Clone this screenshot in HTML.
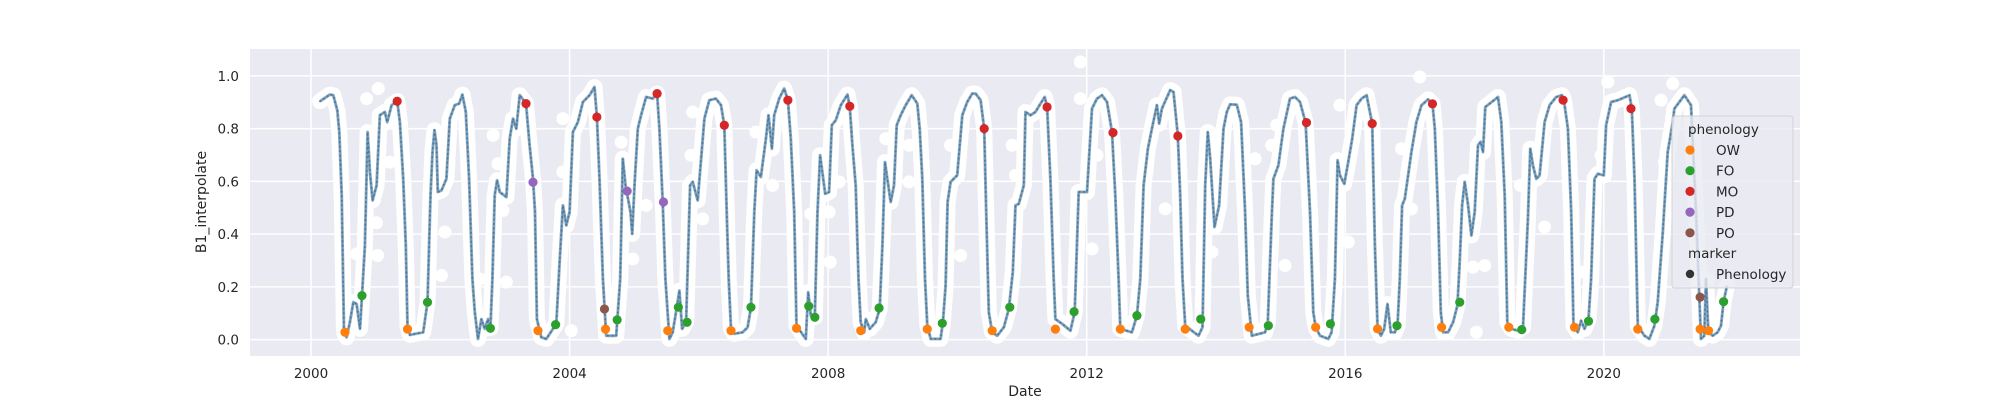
<!DOCTYPE html>
<html><head><meta charset="utf-8"><style>
html,body{margin:0;padding:0;background:#fff;}
svg{display:block;font-family:"DejaVu Sans","Liberation Sans",sans-serif;}
</style></head><body>
<svg id="chart" width="2000" height="400" viewBox="0 0 2000 400" xmlns="http://www.w3.org/2000/svg">
<rect x="250" y="49" width="1550" height="307" fill="#eaeaf2"/>
<g id="grid"></g>
<g id="ticks"></g>
<g id="series"></g>
<text x="1025" y="396" text-anchor="middle" font-size="14" fill="#262626">Date</text>
<text transform="translate(206,202) rotate(-90)" text-anchor="middle" font-size="14" fill="#262626">B1_interpolate</text>
<g id="legend"></g>
</svg>
<script>
const curveYears=[2000.14,2000.29,2000.345,2000.407,2000.438,2000.474,2000.51,2000.551,2000.602,2000.654,2000.705,2000.757,2000.788,2000.834,2000.875,2000.911,2000.952,2001.014,2001.066,2001.143,2001.179,2001.246,2001.333,2001.375,2001.426,2001.467,2001.493,2001.529,2001.735,2001.802,2001.848,2001.879,2001.91,2001.941,2001.961,2002.018,2002.095,2002.147,2002.224,2002.291,2002.342,2002.394,2002.445,2002.497,2002.533,2002.584,2002.636,2002.687,2002.739,2002.775,2002.806,2002.842,2002.878,2002.919,2003.022,2003.073,2003.125,2003.176,2003.228,2003.326,2003.382,2003.434,2003.465,2003.495,2003.562,2003.64,2003.794,2003.846,2003.897,2003.949,2004.0,2004.051,2004.129,2004.206,2004.309,2004.386,2004.422,2004.463,2004.515,2004.566,2004.721,2004.783,2004.824,2004.865,2004.942,2004.968,2005.004,2005.055,2005.107,2005.184,2005.287,2005.354,2005.39,2005.441,2005.483,2005.545,2005.596,2005.647,2005.699,2005.74,2005.802,2005.864,2005.905,2005.982,2006.085,2006.162,2006.265,2006.342,2006.394,2006.43,2006.461,2006.497,2006.548,2006.677,2006.754,2006.806,2006.857,2006.893,2006.96,2007.037,2007.078,2007.13,2007.166,2007.243,2007.32,2007.377,2007.423,2007.475,2007.511,2007.655,2007.691,2007.732,2007.794,2007.835,2007.876,2007.954,2008.015,2008.056,2008.118,2008.196,2008.299,2008.335,2008.376,2008.427,2008.469,2008.504,2008.556,2008.582,2008.644,2008.736,2008.798,2008.839,2008.88,2008.916,2008.968,2009.019,2009.06,2009.122,2009.2,2009.292,2009.38,2009.416,2009.457,2009.498,2009.534,2009.586,2009.74,2009.776,2009.817,2009.848,2009.894,2009.997,2010.075,2010.152,2010.229,2010.281,2010.358,2010.414,2010.445,2010.486,2010.538,2010.615,2010.718,2010.795,2010.857,2010.898,2010.95,2011.027,2011.053,2011.13,2011.207,2011.285,2011.351,2011.387,2011.439,2011.49,2011.516,2011.619,2011.748,2011.815,2011.877,2012.005,2012.082,2012.16,2012.237,2012.314,2012.391,2012.443,2012.494,2012.52,2012.7,2012.777,2012.829,2012.88,2012.947,2013.009,2013.086,2013.122,2013.163,2013.292,2013.343,2013.41,2013.446,2013.482,2013.524,2013.73,2013.791,2013.833,2013.874,2013.91,2013.977,2014.049,2014.116,2014.167,2014.219,2014.322,2014.389,2014.451,2014.492,2014.554,2014.76,2014.801,2014.863,2014.888,2014.965,2015.043,2015.145,2015.223,2015.3,2015.387,2015.454,2015.506,2015.542,2015.609,2015.737,2015.789,2015.84,2015.881,2015.917,2015.985,2016.046,2016.108,2016.175,2016.253,2016.33,2016.417,2016.458,2016.5,2016.551,2016.602,2016.654,2016.705,2016.767,2016.808,2016.844,2016.88,2016.921,2017.024,2017.101,2017.179,2017.282,2017.349,2017.385,2017.436,2017.478,2017.514,2017.591,2017.668,2017.735,2017.771,2017.807,2017.848,2017.9,2017.951,2018.002,2018.054,2018.095,2018.131,2018.167,2018.234,2018.363,2018.414,2018.466,2018.507,2018.569,2018.672,2018.749,2018.826,2018.862,2018.903,2018.955,2019.006,2019.084,2019.161,2019.264,2019.351,2019.382,2019.444,2019.495,2019.531,2019.598,2019.649,2019.701,2019.763,2019.804,2019.856,2019.907,2020.0,2020.036,2020.113,2020.216,2020.397,2020.433,2020.474,2020.525,2020.628,2020.705,2020.783,2020.834,2020.912,2020.989,2021.066,2021.092,2021.246,2021.349,2021.426,2021.478,2021.504,2021.555,2021.581,2021.617,2021.684,2021.761,2021.813,2021.853,2021.905];
const curveValues=[0.904,0.929,0.927,0.87,0.787,0.547,0.028,0.009,0.066,0.142,0.135,0.041,0.167,0.357,0.787,0.636,0.528,0.585,0.851,0.863,0.825,0.889,0.904,0.825,0.61,0.357,0.053,0.018,0.028,0.142,0.547,0.711,0.794,0.737,0.56,0.566,0.61,0.838,0.889,0.895,0.929,0.863,0.61,0.23,0.104,0.003,0.078,0.041,0.078,0.043,0.23,0.547,0.604,0.56,0.541,0.762,0.838,0.8,0.927,0.895,0.737,0.61,0.484,0.078,0.009,0.003,0.06,0.294,0.509,0.433,0.484,0.787,0.825,0.901,0.927,0.958,0.844,0.61,0.23,0.015,0.015,0.23,0.686,0.585,0.484,0.401,0.585,0.8,0.851,0.92,0.914,0.933,0.8,0.522,0.23,0.003,0.028,0.104,0.186,0.041,0.066,0.585,0.598,0.528,0.838,0.908,0.914,0.889,0.813,0.484,0.23,0.041,0.022,0.028,0.047,0.123,0.484,0.642,0.617,0.762,0.851,0.724,0.851,0.914,0.952,0.908,0.762,0.484,0.053,0.003,0.18,0.091,0.085,0.484,0.699,0.553,0.56,0.813,0.832,0.889,0.929,0.882,0.737,0.585,0.23,0.066,0.028,0.078,0.041,0.066,0.116,0.357,0.673,0.61,0.522,0.585,0.813,0.851,0.889,0.927,0.895,0.8,0.61,0.23,0.053,0.003,0.003,0.066,0.205,0.522,0.598,0.623,0.851,0.901,0.933,0.933,0.908,0.8,0.484,0.104,0.028,0.015,0.047,0.116,0.256,0.509,0.515,0.585,0.863,0.851,0.863,0.895,0.92,0.882,0.61,0.23,0.078,0.06,0.034,0.104,0.56,0.56,0.876,0.914,0.927,0.901,0.787,0.547,0.23,0.041,0.028,0.091,0.23,0.585,0.724,0.8,0.889,0.819,0.876,0.946,0.939,0.775,0.547,0.23,0.053,0.015,0.047,0.585,0.787,0.686,0.427,0.509,0.8,0.863,0.892,0.891,0.825,0.484,0.167,0.015,0.028,0.066,0.471,0.61,0.661,0.8,0.914,0.92,0.901,0.823,0.484,0.104,0.047,0.015,0.003,0.028,0.23,0.68,0.623,0.591,0.673,0.762,0.889,0.914,0.927,0.819,0.357,0.041,0.015,0.041,0.135,0.028,0.028,0.053,0.23,0.509,0.534,0.711,0.825,0.889,0.911,0.894,0.8,0.484,0.104,0.028,0.028,0.066,0.129,0.294,0.509,0.598,0.509,0.395,0.484,0.737,0.75,0.711,0.882,0.895,0.92,0.825,0.547,0.066,0.041,0.034,0.047,0.458,0.724,0.661,0.61,0.623,0.825,0.889,0.92,0.927,0.908,0.8,0.484,0.053,0.028,0.072,0.041,0.078,0.23,0.61,0.629,0.623,0.813,0.901,0.908,0.927,0.876,0.61,0.053,0.015,0.003,0.053,0.142,0.408,0.711,0.825,0.876,0.927,0.889,0.484,0.154,0.003,0.015,0.23,0.028,0.015,0.028,0.053,0.144,0.205];
const obsYears=[2001.04,2000.86,2001.22,2001.014,2001.03,2000.705,2002.018,2002.07,2002.61,2003.022,2002.816,2002.893,2002.97,2003.897,2003.897,2004.026,2004.798,2004.978,2005.184,2005.905,2005.879,2006.059,2006.883,2007.012,2007.14,2007.732,2008.015,2008.031,2008.17,2008.891,2009.251,2009.251,2009.894,2010.049,2010.847,2010.898,2011.902,2011.902,2012.082,2012.16,2013.215,2013.37,2013.936,2014.399,2014.605,2014.863,2014.94,2015.068,2015.917,2016.046,2016.87,2017.024,2017.153,2017.977,2018.028,2018.157,2018.708,2019.084,2019.649,2019.958,2020.062,2020.886,2021.066,2020.937];
const obsValues=[0.952,0.914,0.673,0.443,0.319,0.325,0.243,0.408,0.23,0.218,0.775,0.667,0.49,0.838,0.636,0.034,0.749,0.306,0.509,0.863,0.699,0.458,0.787,0.737,0.585,0.477,0.484,0.294,0.598,0.762,0.737,0.598,0.737,0.319,0.737,0.623,1.053,0.914,0.344,0.699,0.496,0.939,0.332,0.838,0.686,0.737,0.813,0.281,0.889,0.37,0.724,0.496,0.996,0.275,0.028,0.281,0.585,0.427,0.256,0.699,0.977,0.908,0.971,0.673];
const phenoYears=[2000.525,2001.493,2003.511,2004.556,2005.519,2006.497,2007.511,2008.504,2009.534,2010.538,2011.516,2012.52,2013.524,2014.513,2015.542,2016.5,2017.49,2018.53,2019.546,2020.525,2021.49,2021.62,
2000.788,2001.802,2002.775,2003.784,2004.736,2005.683,2005.817,2006.806,2007.70,2007.794,2008.788,2009.766,2010.81,2011.805,2012.777,2013.764,2014.81,2015.77,2016.80,2017.771,2018.73,2019.763,2020.79,2021.853,
2001.333,2003.326,2004.422,2005.354,2006.394,2007.377,2008.335,2010.414,2011.387,2012.407,2013.41,2015.40,2016.417,2017.349,2019.37,2020.42,
2003.434,2004.891,2005.452,
2004.54,2021.49];
const phenoValues=[0.028,0.04,0.034,0.04,0.034,0.034,0.043,0.034,0.04,0.034,0.04,0.04,0.04,0.047,0.047,0.041,0.047,0.047,0.047,0.04,0.04,0.034,
0.167,0.142,0.043,0.057,0.075,0.123,0.066,0.123,0.127,0.085,0.12,0.062,0.123,0.106,0.091,0.078,0.053,0.06,0.053,0.142,0.038,0.07,0.078,0.144,
0.904,0.895,0.844,0.933,0.813,0.908,0.885,0.8,0.882,0.785,0.772,0.823,0.819,0.894,0.908,0.876,
0.597,0.563,0.522,
0.116,0.161];
const phenoTypes=["OW","OW","OW","OW","OW","OW","OW","OW","OW","OW","OW","OW","OW","OW","OW","OW","OW","OW","OW","OW","OW","OW",
"FO","FO","FO","FO","FO","FO","FO","FO","FO","FO","FO","FO","FO","FO","FO","FO","FO","FO","FO","FO","FO","FO","FO","FO",
"MO","MO","MO","MO","MO","MO","MO","MO","MO","MO","MO","MO","MO","MO","MO","MO",
"PD","PD","PD","PO","PO"];
const xTicks=[2000,2004,2008,2012,2016,2020];
const yTicks=[0.0,0.2,0.4,0.6,0.8,1.0];
const legendLabels=["OW","FO","MO","PD","PO"];
const phenoColors={OW:"#ff7f0e",FO:"#2ca02c",MO:"#d62728",PD:"#9467bd",PO:"#8c564b"};

const NS="http://www.w3.org/2000/svg";
const X0=250,X1=1800,Y0=49,Y1=356;
const xMin=1999.056,xMax=2023.035,yMin=-0.062,yMax=1.102;
function xs(v){return X0+(v-xMin)/(xMax-xMin)*(X1-X0);}
function ys(v){return Y1-(v-yMin)/(yMax-yMin)*(Y1-Y0);}
function mk(tag,attrs,parent){const e=document.createElementNS(NS,tag);for(const k in attrs)e.setAttribute(k,attrs[k]);parent.appendChild(e);return e;}
const grid=document.getElementById('grid'),ticks=document.getElementById('ticks'),series=document.getElementById('series'),legend=document.getElementById('legend');

xTicks.forEach(t=>{
  const l=mk('line',{x1:xs(t),x2:xs(t),y1:Y0,y2:Y1,stroke:'#fff','stroke-width':1.5},grid);
  
  
  const tx=mk('text',{x:xs(t),y:378,'text-anchor':'middle','font-size':13.5,fill:'#262626'},ticks);
  tx.textContent=String(t);
  
  
});
yTicks.forEach(t=>{
  const l=mk('line',{x1:X0,x2:X1,y1:ys(t),y2:ys(t),stroke:'#fff','stroke-width':1.5},grid);
  
  
  const tx=mk('text',{x:239,y:ys(t)+5,'text-anchor':'end','font-size':13.5,fill:'#262626'},ticks);
  tx.textContent=t.toFixed(1);
  
  
});

const pts=curveYears.map((y,i)=>xs(y).toFixed(1)+','+ys(curveValues[i]).toFixed(1)).join(' ');
const halo=mk('polyline',{points:pts,fill:'none',stroke:'#fff','stroke-width':16,'stroke-linejoin':'round','stroke-linecap':'round'},series);


obsYears.forEach((y,i)=>{
  const c=mk('circle',{cx:xs(y),cy:ys(obsValues[i]),r:6.5,fill:'#fff'},series);
  
  
});
const thin=mk('polyline',{points:pts,fill:'none',stroke:'#8a8a8a','stroke-width':1.3,'stroke-linejoin':'round'},series);


const thick=mk('polyline',{points:pts,fill:'none',stroke:'#7094ae','stroke-width':3,'stroke-linejoin':'round','stroke-opacity':0.75},series);


const dots=mk('polyline',{points:pts,fill:'none',stroke:'#3a7ab0','stroke-width':2,'stroke-linecap':'round','stroke-dasharray':'0 4.5'},series);



phenoYears.forEach((y,i)=>{
  const c=mk('circle',{cx:xs(y),cy:ys(phenoValues[i]),r:4.6,fill:phenoColors[phenoTypes[i]]},series);
  
  
});

const box=mk('rect',{x:1672,y:116,width:121,height:172,rx:3,fill:'rgba(234,234,242,0.8)',stroke:'rgba(204,204,204,0.8)','stroke-width':1},legend);


const t1=mk('text',{x:1688,y:134,'font-size':13.5,fill:'#262626'},legend);
t1.textContent='phenology';


legendLabels.forEach((lab,i)=>{
  const cy=150+i*20.7;
  const c=mk('circle',{cx:1690,cy:cy,r:4.6,fill:phenoColors[lab]},legend);
  
  
  const t=mk('text',{x:1716,y:cy+5,'font-size':13.5,fill:'#262626'},legend);
  t.textContent=lab;
  
  
});
const t2=mk('text',{x:1688,y:258,'font-size':13.5,fill:'#262626'},legend);
t2.textContent='marker';


const c2=mk('circle',{cx:1690,cy:274,r:4.2,fill:'#333'},legend);


const t3=mk('text',{x:1716,y:279,'font-size':13.5,fill:'#262626'},legend);
t3.textContent='Phenology';


</script>
</body></html>
